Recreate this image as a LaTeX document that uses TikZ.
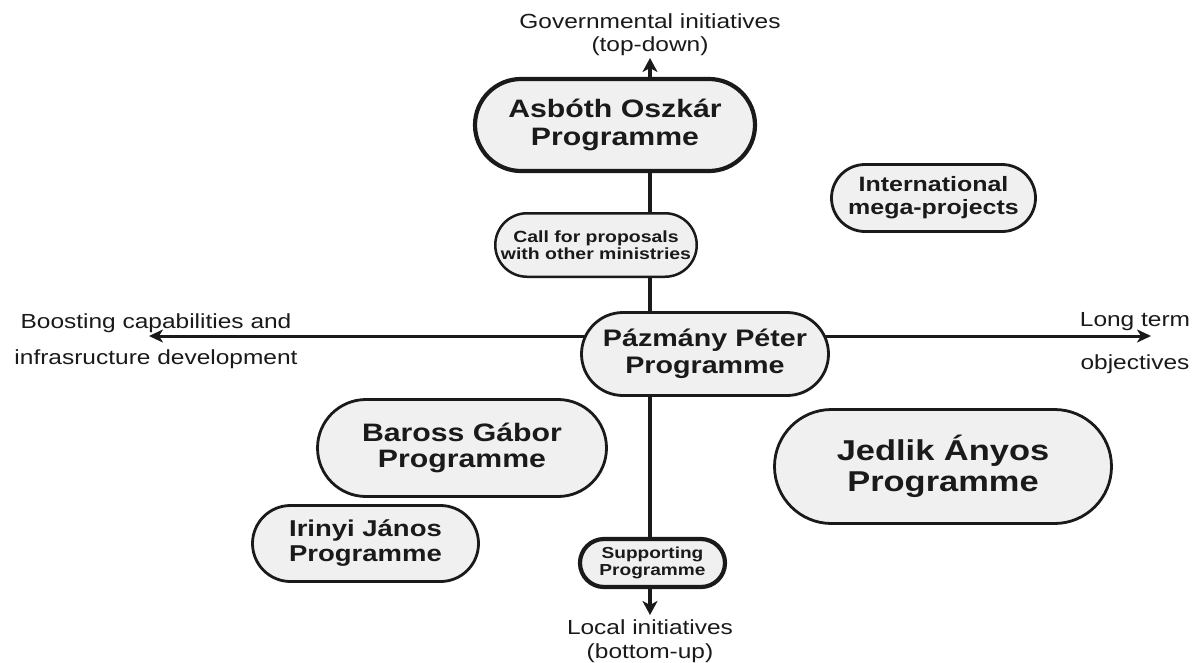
\documentclass[tikz,border=0pt]{standalone}
\usepackage{fontspec}
\setmainfont{Liberation Sans}[FakeStretch=1.2]
\usetikzlibrary{arrows.meta}
\definecolor{nodefill}{HTML}{F0F0F0}
\definecolor{ink}{HTML}{1A1A1A}
\begin{document}
\begin{tikzpicture}[x=1pt,y=-1pt,
  prog/.style={draw=ink, fill=nodefill, text=ink, inner sep=0pt, align=center, line width=2.8pt},
  thickprog/.style={prog, line width=4.2pt},
  lbl/.style={text=ink, inner sep=0pt, align=center},
  vaxis/.style={draw=ink, line width=4pt, {Stealth[length=14pt,width=15pt,inset=4pt]}-{Stealth[length=14pt,width=15pt,inset=4pt]}},
  haxis/.style={draw=ink, line width=3pt, {Stealth[length=14pt,width=13pt,inset=4pt]}-{Stealth[length=14pt,width=13pt,inset=4pt]}}]
\useasboundingbox (0,0) rectangle (1197,662);
\fill[white] (0,0) rectangle (1197,662);
% axis end points
\coordinate (top) at (650,58);
\coordinate (bot) at (650,615);
\coordinate (left) at (149,336);
\coordinate (right) at (1151,336);
\draw[vaxis] (top) -- (bot);
\draw[haxis] (left) -- (right);
% axis labels
\node[lbl, font=\fontsize{20.4}{23}\selectfont] (gov) at (650,35) {Governmental initiatives\\(top-down)};
\node[lbl, font=\fontsize{20.4}{24}\selectfont] (loc) at (650,641) {Local initiatives\\(bottom-up)};
\node[lbl, font=\fontsize{20.4}{36}\selectfont] (boost) at (156,341) {Boosting capabilities and\\infrasructure development};
\node[lbl, font=\fontsize{20.4}{43}\selectfont] (long) at (1135,343) {Long term\\objectives};
% programme nodes
\node[thickprog, minimum width=280pt, minimum height=92pt, rounded corners=46pt,
      font=\bfseries\fontsize{25.2}{28}\selectfont] (ao) at (615,125) {Asbóth Oszkár\\Programme};
\node[prog, line width=2.5pt, minimum width=201.5pt, minimum height=63.5pt, rounded corners=31.75pt,
      font=\bfseries\fontsize{16.2}{17}\selectfont] (cfp) at (596,245) {Call for proposals\\with other ministries};
\node[prog, minimum width=204pt, minimum height=67pt, rounded corners=33.5pt,
      font=\bfseries\fontsize{20.8}{23}\selectfont] (imp) at (933.5,198) {International\\mega-projects};
\node[prog, minimum width=247pt, minimum height=83pt, rounded corners=41.5pt,
      font=\bfseries\fontsize{23.9}{27}\selectfont] (pp) at (705,354) {Pázmány Péter\\Programme};
\node[prog, minimum width=289pt, minimum height=97pt, rounded corners=48.5pt,
      font=\bfseries\fontsize{25.2}{26}\selectfont] (bg) at (462,448) {Baross Gábor\\Programme};
\node[prog, minimum width=337pt, minimum height=114pt, rounded corners=57pt,
      font=\bfseries\fontsize{28.7}{31}\selectfont] (ja) at (943,466.5) {Jedlik Ányos\\Programme};
\node[prog, minimum width=226pt, minimum height=76pt, rounded corners=38pt,
      font=\bfseries\fontsize{22.9}{25}\selectfont] (ij) at (365.5,543.5) {Irinyi János\\Programme};
\node[thickprog, minimum width=145pt, minimum height=48pt, rounded corners=24pt,
      font=\bfseries\fontsize{15.9}{17}\selectfont] (sp) at (652.5,563) {Supporting\\Programme};
\end{tikzpicture}
\end{document}
